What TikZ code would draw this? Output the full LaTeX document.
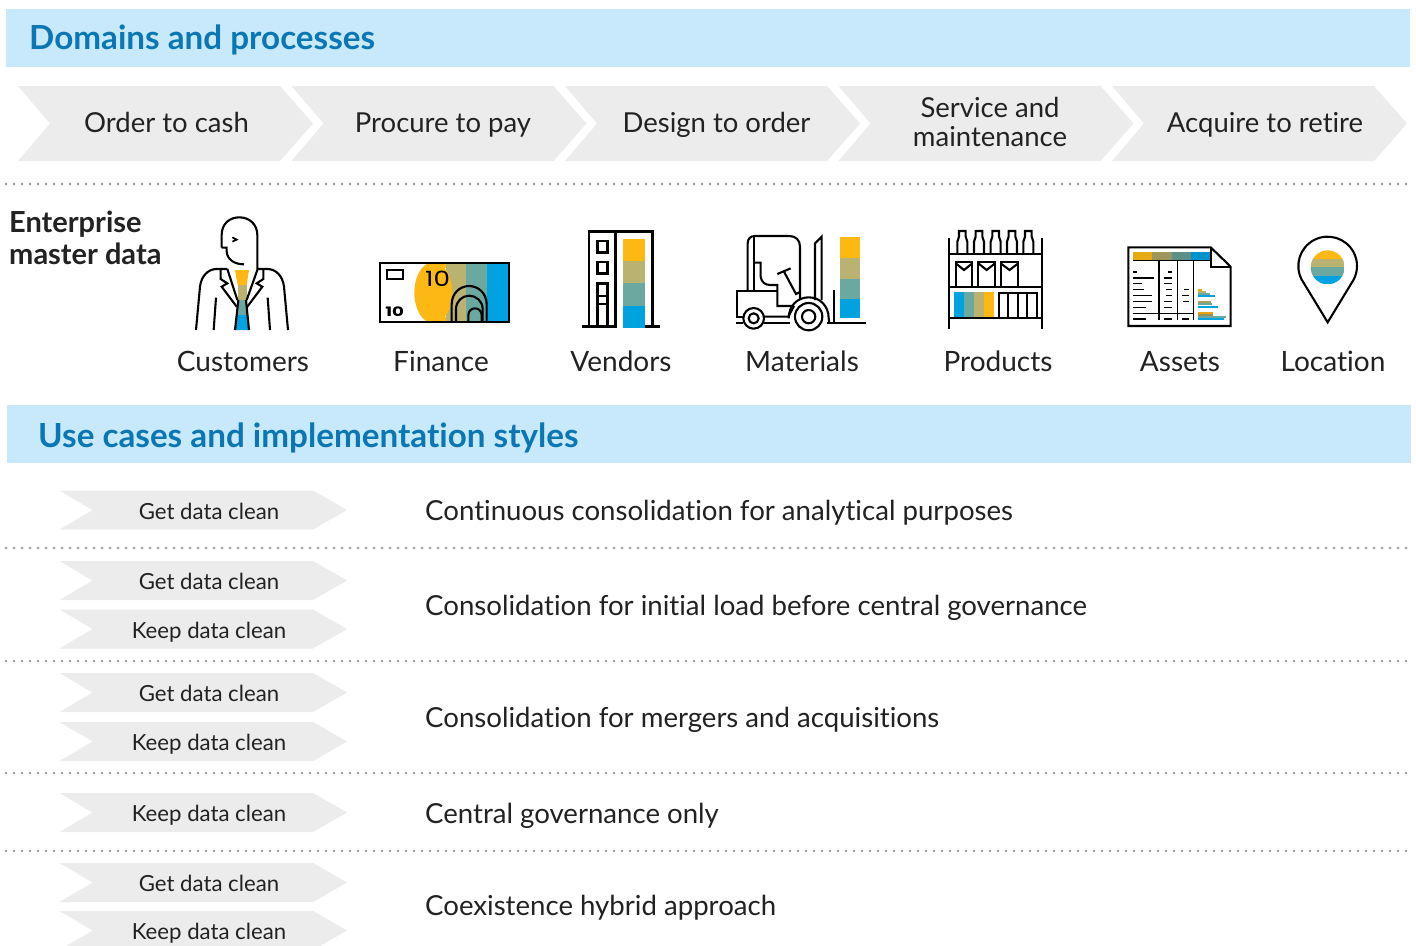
\documentclass[tikz,border=0pt]{standalone}
\usepackage{fontspec}
\setmainfont{Lato}[Ligatures=NoCommon]
\newfontfamily\iconfont{Poppins}
\definecolor{banner}{HTML}{C8E9FB}
\definecolor{titleblue}{HTML}{0A76B4}
\definecolor{chev}{HTML}{ECECEC}
\definecolor{ink}{HTML}{222222}
\definecolor{dotgray}{HTML}{9A9A9A}
\definecolor{cy}{HTML}{FDB813}
\definecolor{ck}{HTML}{B9B270}
\definecolor{ct}{HTML}{6BA8A0}
\definecolor{cb}{HTML}{00A3E0}
\tikzset{
  x=1pt,y=-1pt,
  bannerbox/.style={fill=banner,draw=none},
  bannertext/.style={anchor=base west,inner sep=0pt,text=titleblue,font=\fontsize{33.2}{36}\selectfont\bfseries},
  chevbox/.style={fill=chev,draw=none},
  bigtext/.style={anchor=base,inner sep=0pt,align=center,text=ink,font=\fontsize{27.5}{29}\selectfont},
  labeltext/.style={anchor=base,inner sep=0pt,text=ink,font=\fontsize{28}{29}\selectfont},
  smalltext/.style={anchor=base,inner sep=0pt,text=ink,font=\fontsize{22.2}{24}\selectfont},
  caselabel/.style={anchor=base west,inner sep=0pt,text=ink,font=\fontsize{27.6}{29}\selectfont},
  headtext/.style={anchor=base west,inner sep=0pt,text=ink,font=\fontsize{29}{32}\selectfont\bfseries},
  dotline/.style={draw=dotgray,line width=2.6pt,line cap=round,dash pattern=on 0pt off 8pt},
  icon/.style={x=0.33333pt,y=-0.33333pt,line join=miter},
  ln/.style={draw=black,line width=#1},
  ln/.default=2.1pt
}
\newcommand{\bigchev}[1]{%
  \fill[chevbox] (#1,86) -- ++(262,0) -- ++(33,37.5) -- ++(-33,37.5) -- ++(-262,0) -- ++(32,-37.5) -- cycle;}
\newcommand{\smallchev}[3]{%
  \fill[chevbox] (59.5,#1) -- (313,#1) -- (347,#1+19.5) -- (313,#1+39) -- (59.5,#1+39) -- (92.5,#1+19.5) -- cycle;
  \node[smalltext] (#2) at (209,#1+28.5) {#3};}
\begin{document}
\begin{tikzpicture}
\useasboundingbox (0,0) rectangle (1416,945);
\begin{scope}
\clip (0,0) rectangle (1416,945);
\fill[white] (0,0) rectangle (1416,945);
% banners
\fill[bannerbox] (6,9) rectangle (1410,67);
\node[bannertext] (t1) at (29,49.5) {Domains and processes};
\fill[bannerbox] (7,405) rectangle (1411,463);
\node[bannertext] (t2) at (38,447.5) {Use cases and implementation styles};
% process chevrons
\bigchev{18}\bigchev{291.5}\bigchev{565}\bigchev{838.5}\bigchev{1112}
\node[bigtext] (p1) at (166.5,132) {Order to cash};
\node[bigtext] (p2) at (443,132) {Procure to pay};
\node[bigtext] (p3) at (716.5,132) {Design to order};
\node[bigtext] (p4a) at (990,117.5) {Service and};
\node[bigtext] (p4b) at (990,146.5) {maintenance};
\node[bigtext] (p5) at (1265,132) {Acquire to retire};
% dotted separators
\foreach \yy in {184,548,661,773,851}{\draw[dotline] (6,\yy) -- (1412,\yy);}
% master data
\node[headtext] (em1) at (9,232) {Enterprise};
\node[headtext] (em2) at (9,264) {master data};
\node[labeltext] (l1) at (243,371.5) {Customers};
\node[labeltext] (l2) at (441,371.5) {Finance};
\node[labeltext] (l3) at (621,371.5) {Vendors};
\node[labeltext] (l4) at (802,371.5) {Materials};
\node[labeltext] (l5) at (998,371.5) {Products};
\node[labeltext] (l6) at (1180,371.5) {Assets};
\node[labeltext] (l7) at (1333,371.5) {Location};
% customer + finance
\begin{scope}[shift={(170,205)},icon]
  \fill[cy] (195,195) -- (237,195) -- (230,240) -- (203,240) -- cycle;
  \fill[ck] (203,240) rectangle (230,285);
  \fill[ct] (203,285) -- (230,285) -- (233,330) -- (199,330) -- cycle;
  \fill[cb] (199,330) -- (233,330) -- (237,375) -- (195,375) -- cycle;
  \draw[ln] (155,128) -- (155,90) .. controls (155,55) and (180,37) .. (208,37) .. controls (238,37) and (262,58) .. (262,90) -- (262,195);
  \draw[ln] (155,128) -- (170,128) -- (170,140) .. controls (172,165) and (195,178) .. (222,178);
  \draw[ln,line width=1.7pt] (187,97) -- (200,104) -- (187,110);
  \draw[ln] (78,375) -- (90,245) .. controls (94,212) and (115,192) .. (140,192) -- (172,192);
  \draw[ln] (354,375) -- (342,245) .. controls (338,212) and (317,192) .. (292,192) -- (262,192);
  \draw[ln] (152,192) -- (152,222) -- (172,235) -- (155,245) -- (200,305);
  \draw[ln] (280,192) -- (280,222) -- (260,235) -- (277,245) -- (232,305);
  \draw[ln] (172,192) -- (202,285);
  \draw[ln] (262,195) -- (230,285);
  \draw[ln] (205,285) -- (195,375);
  \draw[ln] (228,285) -- (237,375);
  \draw[ln] (138,278) -- (131,375);
  \draw[ln] (293,278) -- (300,375);
  % banknote
  \fill[ck] (827,175) rectangle (888,352);
  \fill[ct] (888,175) rectangle (951,352);
  \fill[cb] (951,175) rectangle (1018,352);
  \begin{scope}
    \clip (631,175) rectangle (1018,352);
    \fill[cy] (790,263) ellipse [x radius=57,y radius=92];
    \fill[cy] (790,175) rectangle (827,190);
    \fill[cy] (790,335) rectangle (827,352);
  \end{scope}
  \draw[ln] (631,175) rectangle (1018,352);
  \draw[ln] (651,195) rectangle (698,222);
  \draw[ln] (845,352) -- (845,298) .. controls (845,265) and (870,243) .. (897,243) .. controls (925,243) and (950,265) .. (950,298) -- (950,352);
  \draw[ln] (858,352) -- (858,312) .. controls (858,288) and (878,272) .. (897,272) .. controls (918,272) and (938,288) .. (938,312) -- (938,352);
  \draw[ln] (895,352) -- (895,330) .. controls (895,318) and (905,310) .. (915,310) .. controls (925,310) and (935,318) .. (935,330) -- (935,352);
  \node[inner sep=0pt,text=black,xscale=1.25,font=\iconfont\fontsize{21}{21}\selectfont] (ten1) at (803,221) {10};
  \node[inner sep=0pt,text=black,xscale=1.4,font=\iconfont\bfseries\fontsize{13}{13}\selectfont] (ten2) at (674,320) {10};
\end{scope}
% vendors + materials
\begin{scope}[shift={(570,220)},icon]
  \fill[cy] (159,57) rectangle (225,123);
  \fill[ck] (159,123) rectangle (225,189);
  \fill[ct] (159,189) rectangle (225,258);
  \fill[cb] (159,258) rectangle (225,324);
  \draw[ln=2.5pt] (35,320) -- (142,320);
  \draw[ln=2.5pt] (225,320) -- (270,320);
  \draw[ln=2.5pt] (57,320) -- (57,35) -- (248,35) -- (248,320);
  \draw[ln=2.5pt] (136,35) -- (136,320);
  \draw[ln=2.5pt] (83,63) rectangle (112,97);
  \draw[ln=2.5pt] (83,126) rectangle (112,160);
  \draw[ln=2.5pt] (83,320) -- (83,190) -- (112,190) -- (112,320);
  \draw[ln=2.5pt] (83,228) -- (112,228);
  \draw[ln=2.5pt] (83,252) -- (112,252);
  % forklift
  \fill[cy] (810,51) rectangle (870,114);
  \fill[ck] (810,114) rectangle (870,177);
  \fill[ct] (810,177) rectangle (870,237);
  \fill[cb] (810,237) rectangle (870,293);
  \draw[ln] (533,212) -- (533,70) .. controls (533,56) and (542,48) .. (555,48) -- (658,48) .. controls (677,48) and (690,60) .. (690,80) -- (690,240);
  \draw[ln] (552,48) -- (552,212);
  \draw[ln] (552,128) -- (572,128) -- (572,170) .. controls (574,186) and (585,195) .. (600,195) -- (622,195) -- (622,258) -- (672,258);
  \draw[ln] (520,290) -- (500,290) -- (500,212) -- (622,212);
  \draw[ln] (582,290) -- (655,290) -- (672,258);
  \draw[ln] (551,295) circle [radius=31];
  \draw[ln] (551,295) circle [radius=15];
  \draw[ln] (716,290) circle [radius=41];
  \draw[ln] (716,290) circle [radius=20];
  \draw[ln] (656,295) .. controls (656,258) and (682,232) .. (716,232) .. controls (750,232) and (776,258) .. (776,295) -- (778,310);
  \draw[ln] (622,162) -- (662,145);
  \draw[ln] (642,155) -- (678,222) -- (692,215);
  \draw[ln] (735,240) -- (735,70) -- (755,50) -- (755,240);
  \draw[ln] (793,210) -- (793,310);
  \draw[ln] (772,310) -- (888,310);
  \draw[ln] (497,310) -- (520,310);
  \draw[ln] (582,310) -- (660,310);
\end{scope}
% products + assets
\begin{scope}[shift={(940,220)},icon]
  \fill[cb] (42,215) rectangle (72,291);
  \fill[ct] (72,215) rectangle (102,291);
  \fill[ck] (102,215) rectangle (132,291);
  \fill[cy] (132,215) rectangle (162,291);
  \draw[ln] (27,55) -- (27,327);
  \draw[ln] (307,55) -- (307,327);
  \draw[ln] (27,102) -- (307,102);
  \draw[ln] (27,200) -- (307,200);
  \draw[ln] (27,293) -- (307,293);
  \foreach \c in {67,117,167,216,265}{
    \draw[ln] (\c-15,102) -- (\c-15,65) -- (\c-10,50) -- (\c-10,33) -- (\c+10,33) -- (\c+10,50) -- (\c+15,65) -- (\c+15,102);
  }
  \foreach \a/\b in {47/97,115/165,182/235}{
    \draw[ln] (\a,200) -- (\a,127) -- (\b,127) -- (\b,200);
    \draw[ln] (\a,130) -- ({(\a+\b)/2},150) -- (\b,130);
  }
  \draw[ln] (178,291) -- (178,220) -- (290,220) -- (290,291);
  \foreach \c in {205,233,261}{\draw[ln] (\c,220) -- (\c,291);}
  % document
  \fill[cy!92!black] (580,96) rectangle (636,120);
  \fill[ck!85!black] (636,96) rectangle (695,120);
  \fill[ct!85!black] (695,96) rectangle (753,120);
  \fill[cb!90!black] (753,96) rectangle (812,120);
  \draw[ln] (565,82) -- (812,82) -- (872,140) -- (872,318) -- (565,318) -- cycle;
  \draw[ln] (812,82) -- (812,140) -- (872,140);
  \draw[ln,line width=1.6pt] (580,122) -- (812,122);
  \foreach \c in {657,712,760}{\draw[ln,line width=1.6pt] (\c,122) -- (\c,300);}
  \draw[ln,line width=1.4pt] (580,280) -- (762,280);
  \foreach \y/\a/\b in {156/580/592,174/580/642,191/580/605,209/580/612,227/580/635,244/580/635,262/580/617,297/580/617,
                        156/685/697,174/672/697,191/672/697,209/678/697,227/678/697,244/672/697,262/672/697,297/672/697,
                        209/733/747,227/727/747,244/730/747,297/727/747}{
    \draw[ln,line width=1.5pt] (\a,\y) -- (\b,\y);
  }
  \fill[cy!90!black] (775,208) rectangle (787,214);
  \fill[ck] (775,214) rectangle (797,220);
  \fill[ct] (775,220) rectangle (810,225);
  \fill[cb] (775,225) rectangle (825,230);
  \fill[ck!90!black] (775,242) rectangle (812,248);
  \fill[ct] (775,250) rectangle (815,255);
  \fill[cb] (775,258) rectangle (833,264);
  \fill[cy!90!black] (775,277) rectangle (820,283);
  \fill[ck!80!black] (775,283) rectangle (818,288);
  \fill[ct] (775,288) rectangle (857,293);
  \fill[cb] (775,294) rectangle (852,299);
\end{scope}
% location
\begin{scope}[shift={(1280,225)},icon]
  \begin{scope}
    \clip (143,127) circle [radius=51];
    \fill[cy] (90,76) rectangle (196,102);
    \fill[ck] (90,102) rectangle (196,127);
    \fill[ct] (90,127) rectangle (196,152);
    \fill[cb] (90,152) rectangle (196,178);
  \end{scope}
  \draw[ln] (143,292) -- (65.3,164.3) arc [start angle=152,end angle=388,radius=88] -- cycle;
\end{scope}
% use cases
\smallchev{490.5}{u1}{Get data clean}
\node[caselabel] (c1) at (425,520) {Continuous consolidation for analytical purposes};
\smallchev{561}{u2}{Get data clean}
\smallchev{609.5}{u3}{Keep data clean}
\node[caselabel] (c2) at (425,615) {Consolidation for initial load before central governance};
\smallchev{673}{u4}{Get data clean}
\smallchev{722}{u5}{Keep data clean}
\node[caselabel] (c3) at (425,727) {Consolidation for mergers and acquisitions};
\smallchev{793}{u6}{Keep data clean}
\node[caselabel] (c4) at (425,823) {Central governance only};
\smallchev{863}{u7}{Get data clean}
\smallchev{911}{u8}{Keep data clean}
\node[caselabel] (c5) at (425,915) {Coexistence hybrid approach};
\end{scope}
\end{tikzpicture}
\end{document}
